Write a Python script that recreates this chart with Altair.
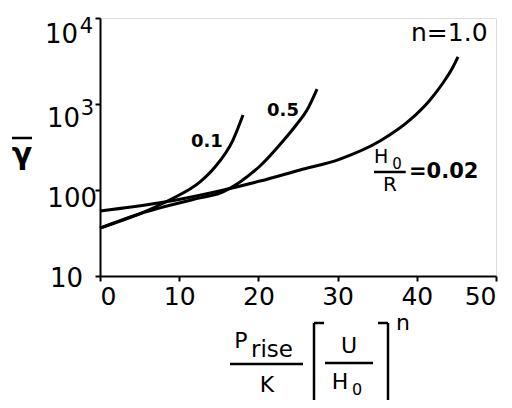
import altair as alt
import pandas as pd

# ---- data ----
n01_x = [0, 5.05, 8.84, 12.63, 14.52, 16.79, 18.06]
n01_y = [36, 53, 77, 124, 185, 381, 745]
n05_x = [0, 5.05, 7.58, 12.63, 15.15, 17.68, 20.2, 23.11, 24.87, 26.14, 27.4]
n05_y = [36, 53, 62, 81, 92, 124, 190, 371, 585, 851, 1493]
n10_x = [0, 7.58, 14.52, 20.2, 25.25, 30.3, 35.35, 39.14, 41.67, 43.3, 44.57, 45.2]
n10_y = [57, 71, 95, 127, 171, 229, 371, 652, 1114, 1754, 2692, 3524]

x_ticks = [0, 5, 10, 15, 20, 25, 30, 35, 40, 45, 50]
y_ticks = [10, 100, 1000, 10000]
y_base = ["10", "100", "10", "10"]
y_sup = ["", "", "3", "4"]

rows = []
for name, xs_, ys_ in [("0.1", n01_x, n01_y), ("0.5", n05_x, n05_y), ("1.0", n10_x, n10_y)]:
    for i, (a, b) in enumerate(zip(xs_, ys_)):
        rows.append({"n": name, "x": a, "y": b, "o": i})
df = pd.DataFrame(rows)

FONT = "DejaVu Sans"
W, H = 396, 258

xs = alt.Scale(domain=[0, 50], nice=False)
ys = alt.Scale(type="log", domain=[10, 10000], nice=False)

lines = alt.Chart(df).mark_line(color="black", strokeWidth=3, interpolate="monotone").encode(
    x=alt.X("x:Q", scale=xs, axis=alt.Axis(
        values=x_ticks, title=None, grid=False,
        labelExpr="datum.value % 10 == 0 ? datum.label : ''",
        labelFont=FONT, labelFontSize=25, labelColor="black", labelPadding=3,
        domainColor="black", domainWidth=2, tickColor="black", tickWidth=2, tickSize=5)),
    y=alt.Y("y:Q", scale=ys, axis=alt.Axis(
        values=y_ticks, title=None, grid=False, labels=False,
        domainColor="black", domainWidth=2, tickColor="black", tickWidth=2, tickSize=5)),
    detail="n:N",
    order="o:Q",
)

layers = [lines]

# y tick labels (base + superscript), placed at the tick values
base_pos = {10: (-17, 11), 100: (-3, 17), 1000: (-20, 23), 10000: (-22, 25)}
sup_pos = {1000: (-6, 11), 10000: (-7, 15)}
for v, b, s in zip(y_ticks, y_base, y_sup):
    px, dy = base_pos[v]
    layers.append(alt.Chart(pd.DataFrame({"v": [v], "t": [b]})).mark_text(
        font=FONT, fontSize=26, color="black", align="right", baseline="alphabetic", dy=dy
    ).encode(x=alt.value(px), y=alt.Y("v:Q", scale=ys), text="t:N"))
    if s:
        px2, dy2 = sup_pos[v]
        layers.append(alt.Chart(pd.DataFrame({"v": [v], "t": [s]})).mark_text(
            font=FONT, fontSize=21, color="black", align="right", baseline="alphabetic", dy=dy2
        ).encode(x=alt.value(px2), y=alt.Y("v:Q", scale=ys), text="t:N"))

# in-plot annotations (data coordinates)
ann = pd.DataFrame([
    {"t": "0.1", "x": 13.5, "y": 361, "s": 18, "w": "bold"},
    {"t": "0.5", "x": 23.1, "y": 830, "s": 18, "w": "bold"},
    {"t": "n=1.0", "x": 44.1, "y": 6700, "s": 25, "w": "normal"},
    {"t": "H", "x": 35.5, "y": 245, "s": 19, "w": "normal"},
    {"t": "0", "x": 37.5, "y": 200, "s": 15, "w": "normal"},
    {"t": "R", "x": 36.6, "y": 114, "s": 20, "w": "normal"},
    {"t": "=0.02", "x": 43.4, "y": 162, "s": 21, "w": "bold"},
])
for _, r in ann.iterrows():
    layers.append(
        alt.Chart(pd.DataFrame([r])).mark_text(
            font=FONT, fontSize=int(r["s"]), fontWeight=r["w"], color="black", baseline="middle", align="center"
        ).encode(x=alt.X("x:Q", scale=xs), y=alt.Y("y:Q", scale=ys), text="t:N")
    )
frac = pd.DataFrame({"x": [34.6], "x2": [38.6], "y": [162]})
layers.append(alt.Chart(frac).mark_rule(color="black", strokeWidth=2.5).encode(
    x=alt.X("x:Q", scale=xs), x2="x2:Q", y=alt.Y("y:Q", scale=ys)))

# pixel annotations outside plot (axis titles)
def txt(s, x, y, size, baseline="alphabetic", align="center", weight="normal"):
    return alt.Chart(pd.DataFrame({"t": [s]})).mark_text(
        font=FONT, fontSize=size, fontWeight=weight, color="black", baseline=baseline, align=align
    ).encode(x=alt.value(x), y=alt.value(y), text="t:N")

def rule(x1, x2, y1, y2, w=2.5):
    return alt.Chart(pd.DataFrame({"a": [0]})).mark_rule(color="black", strokeWidth=w).encode(
        x=alt.value(x1), x2=alt.value(x2), y=alt.value(y1), y2=alt.value(y2))

layers += [
    txt("γ", -78, 137, 30, baseline="middle", weight="bold"),
    rule(-88, -68, 120, 120),
    txt("P", 141, 330, 22),
    txt("rise", 172, 339, 23),
    rule(130, 203, 346, 346),
    txt("K", 167, 374, 22),
    rule(214, 214, 305, 395), rule(214, 224, 305, 305),
    txt("U", 249, 335, 22),
    rule(225, 273, 345, 345),
    txt("H", 240, 371, 22),
    txt("0", 257, 377, 16),
    rule(288, 288, 305, 395), rule(278, 288, 305, 305),
    txt("n", 303, 312, 22),
]

chart = alt.layer(*layers).properties(
    width=W, height=H,
    autosize=alt.AutoSizeParams(type="none"),
    padding={"left": 92, "top": 10, "right": 8, "bottom": 124},
).configure_view(stroke="black", strokeWidth=2).configure(background="white")

chart.save("out.html", embed_options={"renderer": "svg", "actions": False})
